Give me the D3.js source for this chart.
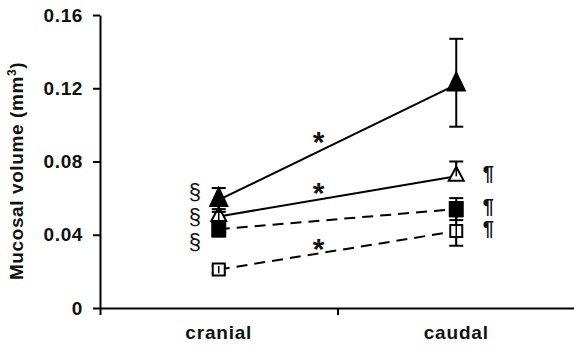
<!DOCTYPE html>
<html>
<head>
<meta charset="utf-8">
<script src="https://d3js.org/d3.v7.min.js"></script>
<style>
  body { margin: 0; background: #fff; }
  text { font-family: "Liberation Sans", Arial, sans-serif; }
</style>
</head>
<body>
<script>
// data
var regions = ["cranial", "caudal"];
var yTicks = [0, 0.04, 0.08, 0.12, 0.16];

var filledTri = [0.059, 0.122],
    openTri   = [0.050, 0.072],
    filledSq  = [0.043, 0.054],
    openSq    = [0.021, 0.042];

// error bars, upper and lower arms
var filledTriUp = [0.0065, 0.025], filledTriDown = [0.0065, 0.023],
    openTriUp   = [0.004, 0.008],  openTriDown   = [0.002, 0],
    filledSqUp  = [0.004, 0.006],  filledSqDown  = [0.004, 0.006],
    openSqUp    = [0.002, 0.008],  openSqDown    = [0.002, 0.008];

var width = 574, height = 348;

var x = d3.scaleBand().domain(regions).range([100, 575]).padding(0),
    xEdge = d3.scaleLinear().domain([0, 2]).range([100, 575]),
    y = d3.scaleLinear().domain([0, 0.16]).range([308, 15]);

var cx = function(r) { return x(r) + x.bandwidth() / 2; };

var svg = d3.select("body").append("svg")
    .attr("width", width)
    .attr("height", height);

// y axis
var yAxis = d3.axisLeft(y)
    .tickValues(yTicks)
    .tickSize(7)
    .tickSizeOuter(0)
    .tickPadding(10)
    .tickFormat(function(d) { return d === 0 ? "0" : d3.format(".2f")(d); });

svg.append("g")
    .attr("transform", "translate(100,0)")
    .call(yAxis)
    .call(function(g) {
      g.selectAll("path, line").attr("stroke", "#000").attr("stroke-width", 2);
      g.selectAll("text").attr("font-size", "19px").attr("font-weight", "bold")
        .attr("letter-spacing", "0.6px").attr("fill", "#111");
    });

// x axis (ticks on the category edges)
svg.append("g")
    .attr("transform", "translate(0,308)")
    .call(d3.axisBottom(xEdge).tickValues([0, 1, 2]).tickSize(7).tickSizeOuter(0).tickFormat(""))
    .call(function(g) {
      g.selectAll("path, line").attr("stroke", "#000").attr("stroke-width", 2);
    });

svg.append("g")
    .attr("transform", "translate(0,308)")
    .call(d3.axisBottom(x).tickSize(0).tickPadding(14))
    .call(function(g) {
      g.select(".domain").remove();
      g.selectAll("text").attr("font-size", "19px").attr("font-weight", "bold")
        .attr("letter-spacing", "0.8px").attr("fill", "#111").attr("dy", "0.9em");
    });

// y title
svg.append("text")
    .attr("transform", "translate(23,171) rotate(-90)")
    .attr("text-anchor", "middle")
    .attr("font-size", "19px")
    .attr("font-weight", "bold")
    .attr("letter-spacing", "0.6px")
    .attr("fill", "#111")
    .html('Mucosal volume (mm<tspan baseline-shift="super" font-size="12px">3</tspan>)');

var series = [
  {vals: filledTri, up: filledTriUp, down: filledTriDown, shape: "tri", fill: "#000", dash: null, w: 8.5, h: 18},
  {vals: openTri,   up: openTriUp,   down: openTriDown,   shape: "tri", fill: "#fff", dash: null, w: 7.5, h: 14},
  {vals: filledSq,  up: filledSqUp,  down: filledSqDown,  shape: "sq",  fill: "#000", dash: "11,7", w: 6.5, h: 14},
  {vals: openSq,    up: openSqUp,    down: openSqDown,    shape: "sq",  fill: "#fff", dash: "11,7", w: 6, h: 12}
];

var line = d3.line()
    .x(function(d, i) { return cx(regions[i]); })
    .y(function(d) { return y(d); });

// connecting lines
svg.selectAll(".link")
    .data(series)
  .enter().append("path")
    .attr("class", "link")
    .attr("d", function(s) { return line(s.vals); })
    .attr("fill", "none")
    .attr("stroke", "#000")
    .attr("stroke-width", 2)
    .attr("stroke-dasharray", function(s) { return s.dash; });

// error bars + markers, bottom series first so upper ones sit on top
var pts = [];
series.slice().reverse().forEach(function(s) {
  regions.forEach(function(r, i) {
    pts.push({s: s, r: r, v: s.vals[i], hi: s.vals[i] + s.up[i], lo: s.vals[i] - s.down[i]});
  });
});

var g = svg.selectAll(".pt")
    .data(pts)
  .enter().append("g")
    .attr("class", "pt")
    .attr("transform", function(d) { return "translate(" + cx(d.r) + ",0)"; });

g.append("line")
    .attr("y1", function(d) { return y(d.hi); })
    .attr("y2", function(d) { return y(d.lo); })
    .attr("stroke", "#000").attr("stroke-width", 2);

g.selectAll(".cap")
    .data(function(d) { return [d.hi, d.lo].filter(function(v) { return v !== d.v; }); })
  .enter().append("line")
    .attr("x1", -7).attr("x2", 7)
    .attr("y1", function(v) { return y(v); })
    .attr("y2", function(v) { return y(v); })
    .attr("stroke", "#000").attr("stroke-width", 2);

g.append("path")
    .attr("d", function(d) {
      var yy = y(d.v), w = d.s.w, h = d.s.h;
      if (d.s.shape === "tri") {
        return "M0," + (yy - 2 * h / 3) + "L" + w + "," + (yy + h / 3) + "L" + (-w) + "," + (yy + h / 3) + "Z";
      }
      return "M" + (-w) + "," + (yy - h / 2) + "h" + (2 * w) + "v" + h + "h" + (-2 * w) + "Z";
    })
    .attr("fill", function(d) { return d.s.fill; })
    .attr("stroke", "#000")
    .attr("stroke-width", 2);

// whiskers show through the open markers
g.filter(function(d) { return d.s.fill === "#fff"; })
  .append("line")
    .attr("y1", function(d) { return y(d.hi); })
    .attr("y2", function(d) { return y(d.lo); })
    .attr("stroke", "#000").attr("stroke-width", 1.5);

// significance marks
var sect = ["\u00a7", "\u00a7", "\u00a7"];
svg.selectAll(".sect")
    .data(sect)
  .enter().append("text")
    .attr("class", "sect")
    .attr("x", cx("cranial") - 24)
    .attr("y", function(d, i) { return y(openTri[0]) - 25 + i * 25; })
    .attr("dominant-baseline", "central")
    .attr("text-anchor", "middle")
    .attr("font-size", "22px")
    .attr("fill", "#111")
    .text(function(d) { return d; });

var paraSeries = [openTri, filledSq, openSq];
svg.selectAll(".para")
    .data(paraSeries)
  .enter().append("text")
    .attr("class", "para")
    .attr("x", cx("caudal") + 32)
    .attr("y", function(d) { return y(d[1]) - 3; })
    .attr("dominant-baseline", "central")
    .attr("text-anchor", "middle")
    .attr("font-weight", "bold")
    .attr("font-size", "20px")
    .attr("fill", "#111")
    .text("\u00b6");

var starSeries = [filledTri, openTri, openSq];
var starLift = [0, 3, 6];
var tStar = 0.42;
svg.selectAll(".star")
    .data(starSeries)
  .enter().append("text")
    .attr("class", "star")
    .attr("x", cx("cranial") + tStar * (cx("caudal") - cx("cranial")))
    .attr("y", function(d, i) { return y(d[0] + tStar * (d[1] - d[0])) + starLift[i]; })
    .attr("text-anchor", "middle")
    .attr("font-size", "30px")
    .attr("font-weight", "bold")
    .attr("fill", "#111")
    .text("*");
</script>
</body>
</html>
